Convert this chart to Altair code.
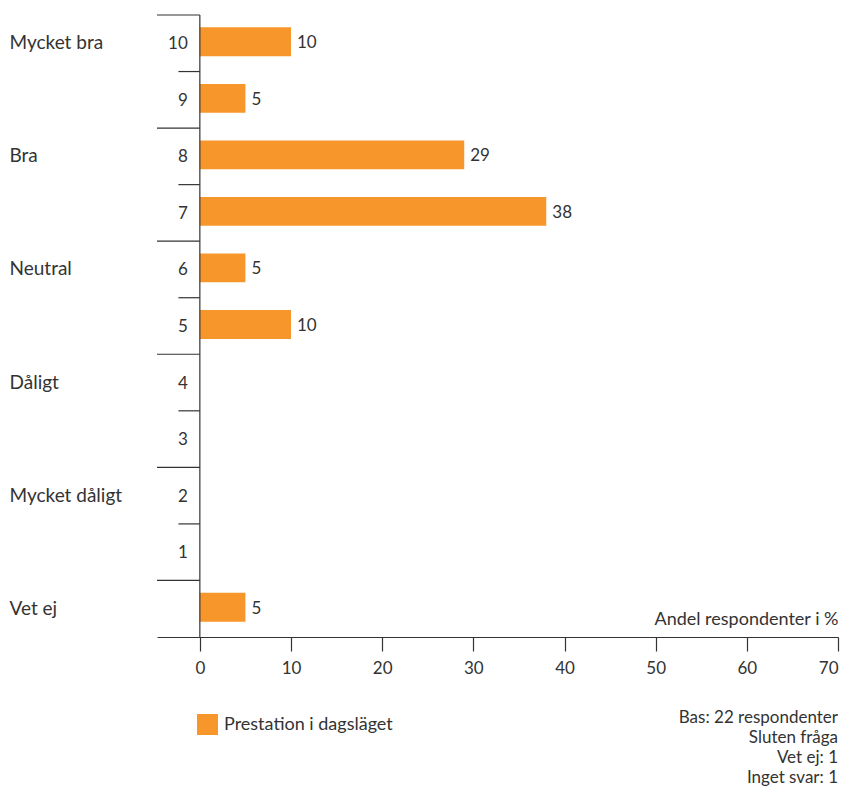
import altair as alt
import pandas as pd

# Rating scale rows, top to bottom
scale_steps = ["10", "9", "8", "7", "6", "5", "4", "3", "2", "1", "Vet ej"]
step_labels = ["10", "9", "8", "7", "6", "5", "4", "3", "2", "1", ""]
group_labels = ["Mycket bra", "", "Bra", "", "Neutral", "", "Dåligt", "",
                "Mycket dåligt", "", "Vet ej"]
# Share of respondents (%) per row; None = no answers
shares = [10, 5, 29, 38, 5, 10, None, None, None, None, 5]

series_name = "Prestation i dagsläget"
x_ticks = [0, 10, 20, 30, 40, 50, 60, 70]
notes = ["Bas: 22 respondenter", "Sluten fråga", "Vet ej: 1", "Inget svar: 1"]
x_title = "Andel respondenter i %"

FONT = "Lato"
ORANGE = "#F7962A"
INK = "#333333"

x_min, x_max = -4.7, 70

df = pd.DataFrame({
    "step": scale_steps,
    "step_label": step_labels,
    "group": group_labels,
    "share": shares,
    "series": series_name,
})
# Separator lines run across the label column for group rows, half-way otherwise
df["sep_from"] = [x_min if g else x_min / 2 for g in group_labels]

label_expr = "{}[indexof({}, datum.value)]".format(
    "[" + ",".join("'" + g + "'" for g in group_labels) + "]",
    "[" + ",".join("'" + s + "'" for s in scale_steps) + "]",
)

x_scale = alt.Scale(domain=[x_min, x_max], nice=False, zero=False)
y_scale = alt.Scale(domain=scale_steps, paddingInner=0, paddingOuter=0)

base = alt.Chart(df)

bars = base.transform_filter("isValid(datum.share)").mark_bar(
    height={"band": 0.51}, yOffset=-1.5
).encode(
    x=alt.X("share:Q", scale=x_scale, title=x_title,
            axis=alt.Axis(values=x_ticks, grid=False, domainColor=INK,
                          domainWidth=1.2, tickColor=INK, tickWidth=1.2,
                          tickSize=14, labelPadding=9,
                          labelFontSize=17, labelColor=INK, labelFont=FONT,
                          titleFont=FONT, titleFontSize=18, titleFontWeight="normal",
                          titleColor=INK, titleAnchor="end", titleAlign="right",
                          titleX=681, titleY=-18, titleBaseline="middle")),
    x2=alt.datum(0),
    y=alt.Y("step:N", scale=y_scale, title=None,
            axis=alt.Axis(domain=False, ticks=False, labelAlign="left",
                          labelPadding=148, labelExpr=label_expr,
                          labelFontSize=19, labelColor=INK, labelFont=FONT,
                          labelBaseline="middle")),
    color=alt.Color("series:N", scale=alt.Scale(range=[ORANGE]),
                    legend=alt.Legend(title=None, orient="none", legendX=40,
                                      legendY=699, symbolType="square",
                                      symbolSize=441, symbolStrokeWidth=0,
                                      symbolOpacity=1, labelFontSize=18,
                                      labelFont=FONT, labelColor=INK,
                                      labelOffset=6, labelLimit=400, padding=0)),
)

value_labels = base.transform_filter("isValid(datum.share)").mark_text(
    align="left", baseline="middle", dx=6, fontSize=17, font=FONT, color=INK
).encode(
    x=alt.X("share:Q", scale=x_scale),
    y=alt.Y("step:N", scale=y_scale),
    text=alt.Text("share:Q"),
)

step_text = base.mark_text(
    align="right", baseline="middle", dx=-12, dy=1, fontSize=17, font=FONT,
    color=INK
).encode(
    x=alt.datum(0, scale=x_scale),
    y=alt.Y("step:N", scale=y_scale),
    text="step_label:N",
)

separators = base.mark_rule(color=INK, strokeWidth=1.2).encode(
    x=alt.X("sep_from:Q", scale=x_scale),
    x2=alt.datum(0),
    y=alt.Y("step:N", scale=y_scale, bandPosition=0),
)

y_axis_line = alt.Chart(pd.DataFrame({"v": [0]})).mark_rule(
    color=INK, strokeWidth=1.2
).encode(x=alt.X("v:Q", scale=x_scale))

footnote = alt.Chart(pd.DataFrame({"v": [0]})).mark_text(
    text=notes, align="right", baseline="top", fontSize=17, font=FONT,
    color=INK, lineHeight=20
).encode(x=alt.value(681), y=alt.value(695))

chart = alt.layer(
    bars, value_labels, step_text, separators, y_axis_line, footnote
).properties(
    width=681, height=622,
    background="white",
    padding={"left": 157, "top": 15, "right": 6, "bottom": 150},
    autosize=alt.AutoSizeParams(type="none"),
).configure_view(stroke=None).configure_axisY(domain=False)

chart.save("out.html", embed_options={"renderer": "svg", "actions": False})
